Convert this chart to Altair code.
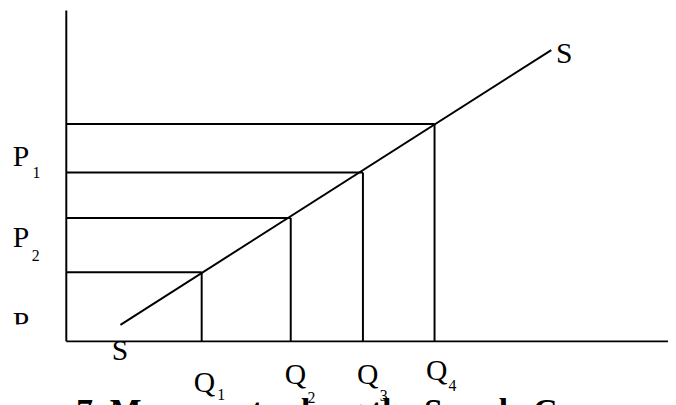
import altair as alt
import pandas as pd

# ---- chart values (quantity / price units) ----
quantities = [22.5, 37.3, 49.3, 61.2]          # Q1..Q4
prices = [20.9, 37.3, 51.0, 65.7]              # price levels meeting the supply curve
supply_q = [9.0, 80.6]
supply_p = [5.0, 88.0]

# labels: text, quantity position, price position
main_text = ["P", "P", "Q", "Q", "Q", "Q", "S", "S"]
main_q = [-8.9, -8.9, 21.2, 36.3, 48.3, 59.8, 81.4, 7.55]
main_p = [53.1, 28.4, -15.2, -12.8, -12.8, -11.6, 84.2, -5.7]

sub_text = ["1", "2", "1", "2", "3", "4"]
sub_q = [-5.6, -5.75, 25.1, 40.1, 52.1, 63.5]
sub_p = [49.3, 24.2, -17.6, -18.5, -17.9, -15.1]

cut_text = ["P"]
cut_q = [-8.9]
cut_p = [2.7]

title_text = ["7. Movements along the Supply Curve"]
title_q = [1.64]
title_p = [-24.4]

xs = alt.Scale(domain=[0, 100], range=[59, 668])
ys = alt.Scale(domain=[0, 100], range=[335, 0])

axes_df = pd.DataFrame({"x": [0, 0], "x2": [0, 102], "y": [0, 0], "y2": [100, 0]})
h_df = pd.DataFrame({"x": [0] * 4, "x2": quantities, "y": prices, "y2": prices})
v_df = pd.DataFrame({"x": quantities, "x2": quantities, "y": [0] * 4, "y2": prices})
s_df = pd.DataFrame({"q": supply_q, "p": supply_p})


def rules(df, sw):
    return alt.Chart(df).mark_rule(color="black", strokeWidth=sw).encode(
        x=alt.X("x:Q", scale=xs, axis=None),
        x2="x2:Q",
        y=alt.Y("y:Q", scale=ys, axis=None),
        y2="y2:Q",
    )


def texts(t, q, p, size, bold=False, clip=False):
    df = pd.DataFrame({"t": t, "q": q, "p": p})
    return alt.Chart(df).mark_text(
        align="left", baseline="alphabetic", font="Liberation Serif",
        fontSize=size, fontWeight="bold" if bold else "normal",
        color="black", clip=clip,
    ).encode(
        x=alt.X("q:Q", scale=xs, axis=None),
        y=alt.Y("p:Q", scale=ys, axis=None),
        text="t:N",
    )


supply = alt.Chart(s_df).mark_line(color="black", strokeWidth=2).encode(
    x=alt.X("q:Q", scale=xs, axis=None),
    y=alt.Y("p:Q", scale=ys, axis=None),
)

chart = alt.layer(
    rules(axes_df, 2),
    rules(h_df, 2),
    rules(v_df, 2),
    supply,
    texts(main_text, main_q, main_p, 30),
    texts(sub_text, sub_q, sub_p, 16),
    texts(cut_text, cut_q, cut_p, 30, clip=True),
    texts(title_text, title_q, title_p, 34, bold=True),
).properties(
    width=668,
    height=318,
    autosize=alt.AutoSizeParams(type="none"),
    padding={"left": 0, "top": 0, "right": 0, "bottom": 79},
).configure_view(stroke=None)

chart.save("out.html", embed_options={"renderer": "svg", "actions": False})
